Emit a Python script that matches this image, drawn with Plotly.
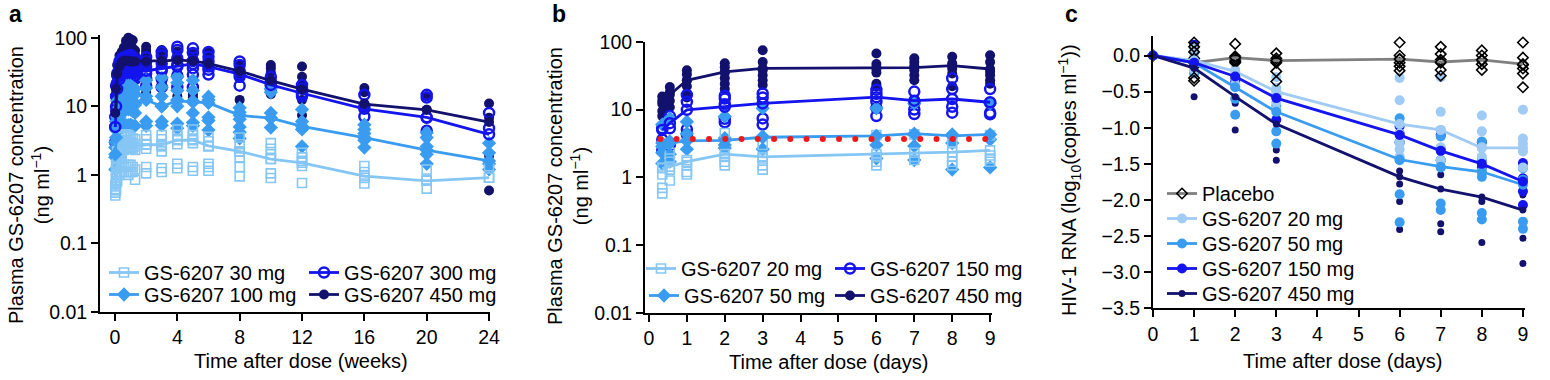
import numpy as np
import plotly.graph_objects as go

FONT = "Liberation Sans, Arial, Helvetica, sans-serif"
W, H = 1550, 380

# ---------------- colours ----------------
C_LIGHT = "#86c6f5"
C_LIGHT_C = "#9fcbf5"
C_MED = "#3a9cf0"
C_BRIGHT = "#1414ee"
C_NAVY = "#12126e"
C_PLAC_LINE = "#808080"
C_REF = "#f01818"

# ================= Panel a: weeks =================
a_weeks = [0.02, 0.07, 0.14, 0.29, 0.43, 0.57, 0.71, 0.86, 1.0, 1.14, 1.29,
           2, 3, 4, 5, 6, 8, 10, 12, 16, 20, 24]
a_labels = ["GS-6207 30 mg", "GS-6207 100 mg", "GS-6207 300 mg", "GS-6207 450 mg"]

a_mean_30 = [0.6, 0.9, 1.3, 1.7, 2.1, 2.3, 2.5, 2.5, 2.6, 2.6, 2.6,
             2.75, 2.75, 3.2, 3.2, 2.65, 2.2, 1.7, 1.5, 0.96, 0.82, 0.91]
a_mean_100 = [2.0, 3.5, 6.0, 8.5, 9.5, 10, 10.5, 10.5, 10.5, 10, 10.5,
              12.4, 10, 12, 11.5, 11.2, 7.4, 6.7, 5.1, 3.5, 2.3, 1.6]
a_mean_300 = [5, 10, 18, 25, 30, 33, 34, 34, 33, 32, 32,
              33, 35.6, 38, 41.5, 38, 29.5, 20.5, 15.5, 9.2, 6.9, 3.9]
a_mean_450 = [8, 18, 30, 38, 44, 46, 46, 46, 45, 45, 45,
              45, 46, 47, 46, 42, 32.7, 23.7, 17.8, 10.8, 8.9, 5.9]

a_pts_30 = [[0.5, 0.55, 0.62, 0.7], [0.6, 0.75, 0.9, 1.1, 1.4], [0.8, 1.0, 1.3, 1.7, 2.2],
            [1.0, 1.4, 1.9, 2.5, 3.2], [1.1, 1.5, 2.2, 2.8, 3.6], [1.1, 1.4, 2.4, 3.0, 3.8],
            [1.1, 1.3, 2.5, 3.1, 3.9], [1.0, 1.4, 2.6, 3.2, 3.8], [1.1, 1.4, 2.5, 3.0, 3.6],
            [1.1, 1.3, 2.4, 2.9, 3.4], [0.85, 1.2, 2.3, 2.8, 3.3],
            [3.8, 3.3, 2.8, 2.4, 1.3, 1.05], [3.8, 3.3, 2.6, 2.2, 1.25, 1.1],
            [4.6, 3.8, 3.3, 2.8, 1.45, 1.25], [4.6, 3.8, 3.3, 2.9, 1.3, 1.15],
            [3.6, 3.1, 2.6, 1.45, 1.3, 1.15], [3.5, 2.8, 2.2, 1.8, 1.3, 0.95],
            [2.9, 2.4, 2.0, 1.7, 1.05, 0.9], [2.1, 1.8, 1.6, 1.35, 0.76],
            [1.35, 1.1, 0.9, 0.75], [1.2, 0.85, 0.63], [1.33, 0.91]]
a_pts_100 = [[1.2, 1.8, 2.5, 3.0], [2.0, 3.0, 4.5, 6.0], [3.0, 5.0, 7.0, 9.0, 12],
             [4.5, 7, 9, 12, 16], [5.5, 8, 10, 14, 18], [5.5, 8.5, 11, 15, 19],
             [5.3, 9, 11, 16, 20], [5.3, 9, 12, 17, 20], [5.4, 9, 12, 17, 20],
             [5.2, 8.5, 12, 16, 19], [5.2, 8, 11, 15, 18],
             [24, 18.5, 14, 12.5, 6, 5.2], [26, 19, 14, 10, 6, 5.3],
             [27, 22, 17, 12.4, 10, 5.6, 4.8], [24, 17, 12, 8, 5.8, 5.2],
             [13.8, 12.4, 6.9, 6.2, 4.5], [9.5, 8.2, 6.5, 5, 4.2, 3.4],
             [18, 16, 8, 6.8, 4.9], [9, 6, 4.6, 2.6], [5.4, 4.6, 4, 3.2, 2.5],
             [4.1, 3.5, 2.6, 2.0, 1.45], [2.9, 2.1, 1.45, 1.2]]
a_pts_300 = [[3, 5, 7], [5, 9, 14, 20], [10, 15, 22, 30], [15, 22, 30, 38, 45],
             [18, 25, 32, 40, 50], [20, 26, 33, 42, 52], [20, 27, 34, 43, 53],
             [22, 28, 34, 45, 55], [24, 30, 35, 45, 56], [25, 30, 34, 43, 52],
             [25, 28, 33, 42, 48],
             [52, 45, 38, 30, 25, 20], [62, 55, 42, 33, 25, 19], [74, 66, 50, 40, 28, 19],
             [70, 60, 46, 36, 29, 19], [62, 53, 45, 34, 29], [45, 40, 33, 27, 20],
             [27, 23, 20, 17.7], [20.5, 18, 15, 14], [14.7, 10, 7.1],
             [14.7, 13.4, 6.8, 4.4], [8, 4.8]]
a_pts_450 = [[5, 9, 14], [12, 20, 28], [22, 32, 40], [30, 40, 48, 55],
             [32, 44, 55, 62], [35, 45, 58, 65, 72], [36, 46, 60, 70, 90],
             [38, 47, 62, 75, 100], [38, 46, 60, 80, 95], [37, 45, 58, 70, 92],
             [36, 44, 55, 65],
             [74, 66, 60, 48, 40, 16, 14], [66, 58, 50, 42, 22, 14], [63, 55, 47, 30, 18, 14],
             [58, 50, 44, 15, 13.5], [62, 56, 48, 40], [40, 31, 26, 12.4],
             [40, 36, 31, 23, 15], [38, 27, 20, 12.4, 7.4], [18.5, 16, 11, 4],
             [14, 8.9, 4.1, 3.5], [11, 6.8, 1.9, 0.59]]

# ================= Panel b: days =================
b_days = [0.35, 0.55, 1, 2, 3, 6, 7, 8, 9]
b_labels = ["GS-6207 20 mg", "GS-6207 50 mg", "GS-6207 150 mg", "GS-6207 450 mg"]
b_mean_20 = [1.36, 1.44, 1.7, 2.2, 2.0, 2.2, 2.3, 2.35, 2.5]
b_mean_50 = [2.85, 3.2, 3.45, 3.5, 3.9, 4.1, 4.4, 4.1, 4.3]
b_mean_150 = [5.0, 6.3, 9.9, 11, 12.3, 15.2, 13.5, 14.3, 12.8]
b_mean_450 = [13.5, 16.5, 27, 36, 40.5, 41.5, 41.5, 44.4, 39.6]

b_pts_20 = [[1.4, 1.1, 0.7, 0.58], [2.3, 1.9, 1.3, 0.9], [1.8, 1.5, 1.2, 1.1],
            [4.5, 2.0, 1.7, 1.5], [3.0, 1.9, 1.5, 1.3], [4.2, 2.0, 1.7, 1.5],
            [4.3, 2.0, 1.8], [3.3, 2.0, 1.7, 1.5], [4.2, 2.1, 1.9, 1.7]]
b_pts_50 = [[6, 3.2, 2.3, 1.6], [7.4, 3.4, 2.2, 1.7], [6.6, 4.4, 3.5, 2.6],
            [7.9, 3.8, 3.0, 2.7], [10.4, 4.0, 2.6], [10.4, 4.0, 3.0, 1.9],
            [12.3, 4.2, 2.9, 1.8], [4.3, 3.2, 1.3], [12.3, 3.6, 1.4]]
b_pts_150 = [[5.3, 3.6, 2.5], [8, 5.3, 3.0], [16.4, 13, 5.1, 4.3],
             [16, 14.5, 12, 7.3, 6.5], [17.3, 15, 7.4, 6], [19.5, 17, 13, 10.5, 8],
             [18.4, 12.5, 10, 8.6], [29, 20, 11, 9], [20, 12.5, 9, 8.5]]
b_pts_450 = [[15.5, 12.2, 9.5, 8], [21.5, 18, 13.5, 10.8], [38, 33, 27, 22, 17, 15],
             [48, 42, 35, 29, 24, 20], [75, 50, 38, 32, 27, 23], [67, 47, 40, 35, 24, 22],
             [57, 50, 44, 38, 32, 27], [60, 48, 40, 34, 22], [63, 50, 36, 32, 27, 24]]

b_ref_level = 3.69          # dotted red reference concentration
b_ref_span = [-0.13, 9.73]  # days covered by the dotted line
b_ref_ndots = 24

# ================= Panel c: days =================
c_days = [0, 1, 2, 3, 6, 7, 8, 9]
c_labels = ["Placebo", "GS-6207 20 mg", "GS-6207 50 mg", "GS-6207 150 mg", "GS-6207 450 mg"]
c_mean_pl = [0, -0.1, -0.03, -0.07, -0.05, -0.09, -0.06, -0.12]
c_mean_20 = [0, -0.07, -0.22, -0.5, -0.95, -1.03, -1.28, -1.28]
c_mean_50 = [0, -0.1, -0.44, -0.78, -1.44, -1.54, -1.61, -1.79]
c_mean_150 = [0, -0.1, -0.29, -0.59, -1.1, -1.32, -1.5, -1.745]
c_mean_450 = [0, -0.175, -0.57, -0.95, -1.68, -1.85, -1.96, -2.14]

c_pts_pl = [[0], [0.18, 0.12, 0.05, -0.04, -0.09, -0.15, -0.31, -0.35],
            [0.16, -0.01, -0.03, -0.06, -0.08, -0.1], [0.03, -0.04, -0.08, -0.1, -0.22, -0.36],
            [0.18, 0.0, -0.05, -0.1, -0.15, -0.21], [0.12, 0.02, -0.06, -0.1, -0.2, -0.28],
            [0.07, 0.0, -0.07, -0.12, -0.2], [0.18, -0.03, -0.13, -0.18, -0.25, -0.44]]
c_pts_20 = [[0], [0.1, -0.02, -0.12, -0.2], [-0.1, -0.2, -0.3, -0.4],
            [-0.3, -0.45, -0.55, -0.65, -0.75], [-0.31, -0.62, -1.08, -1.2, -1.3, -1.4],
            [-0.3, -0.78, -1.03, -1.27, -1.45], [-0.83, -1.05, -1.27, -1.4, -1.6],
            [-0.75, -1.15, -1.22, -1.33, -1.55]]
c_pts_50 = [[0], [0.05, -0.1, -0.25], [-0.3, -0.43, -0.6, -0.82], [-0.55, -0.7, -1.05, -1.22],
            [-0.87, -1.2, -1.45, -1.92, -2.31], [-1.12, -1.45, -1.55, -2.05, -2.14],
            [-1.19, -1.45, -1.68, -2.18, -2.27], [-1.56, -1.72, -2.3, -2.4]]
c_pts_150 = [[0], [0.15, -0.05], [-0.3, -0.36], [-0.57, -0.89], [-0.98, -1.08, -1.2],
             [-1.1, -1.3, -1.45], [-1.2, -1.55], [-1.49, -1.7, -1.88, -2.07]]
c_pts_450 = [[0], [-0.2, -0.57], [-0.6, -0.66, -1.03], [-1.31, -1.45],
             [-1.6, -1.78, -2.02, -2.41], [-1.65, -2.33, -2.44], [-2.02, -2.59],
             [-1.93, -2.53, -2.88]]

# ---------------- figure ----------------
fig = go.Figure()


def px_x(p):
    return p / W


def px_y(p):
    return 1 - p / H


LF = dict(family=FONT, size=20, color="black")
legends = {}


def make_legend(text_x, center_y):
    key = "legend" if not legends else f"legend{len(legends) + 1}"
    legends[key] = dict(x=px_x(text_x - 40), y=px_y(center_y - 19), xanchor="left",
                        yanchor="top", bgcolor="rgba(0,0,0,0)", font=LF,
                        orientation="v", itemwidth=30)
    return key


def add_points(xa, ya, times, pts, marker):
    xs = [t for t, vals in zip(times, pts) for _ in vals]
    ys = [v for vals in pts for v in vals]
    fig.add_trace(go.Scatter(x=xs, y=ys, mode="markers", marker=marker, xaxis=xa, yaxis=ya,
                             showlegend=False, cliponaxis=False, hoverinfo="skip"))


def add_mean(xa, ya, times, mean, name, lcolor, marker, text_x, center_y, lw=2.8):
    fig.add_trace(go.Scatter(x=times, y=mean, mode="lines+markers", name=name,
                             line=dict(color=lcolor, width=lw), marker=marker,
                             xaxis=xa, yaxis=ya, legend=make_legend(text_x, center_y),
                             cliponaxis=False))


def m(symbol, color, size, lw=0, lcolor=None):
    return dict(symbol=symbol, color=color, size=size,
                line=dict(width=lw, color=lcolor or color))


mk_sq = m("square-open", C_LIGHT, 9, 1.6)
mk_di = m("diamond", C_MED, 11)
mk_oc = m("circle-open", C_BRIGHT, 10, 2.5)
mk_fc = m("circle", C_NAVY, 10)

# panel a
for pts, mk in [(a_pts_450, mk_fc), (a_pts_300, mk_oc), (a_pts_100, mk_di), (a_pts_30, mk_sq)]:
    add_points("x", "y", a_weeks, pts, mk)
add_mean("x", "y", a_weeks, a_mean_30, a_labels[0], C_LIGHT, mk_sq, 144, 272)
add_mean("x", "y", a_weeks, a_mean_100, a_labels[1], C_MED, mk_di, 144, 294)
add_mean("x", "y", a_weeks, a_mean_300, a_labels[2], C_BRIGHT, mk_oc, 344, 272)
add_mean("x", "y", a_weeks, a_mean_450, a_labels[3], C_NAVY, mk_fc, 344, 294)

# panel b
for pts, mk in [(b_pts_450, mk_fc), (b_pts_150, mk_oc), (b_pts_50, mk_di), (b_pts_20, mk_sq)]:
    add_points("x2", "y2", b_days, pts, mk)
add_mean("x2", "y2", b_days, b_mean_20, b_labels[0], C_LIGHT, mk_sq, 681, 268)
add_mean("x2", "y2", b_days, b_mean_50, b_labels[1], C_MED, mk_di, 684, 295)
add_mean("x2", "y2", b_days, b_mean_150, b_labels[2], C_BRIGHT, mk_oc, 870, 268)
add_mean("x2", "y2", b_days, b_mean_450, b_labels[3], C_NAVY, mk_fc, 870, 295)
ref_x = np.linspace(b_ref_span[0], b_ref_span[1], b_ref_ndots)
fig.add_trace(go.Scatter(x=ref_x, y=[b_ref_level] * len(ref_x), mode="markers",
                         marker=dict(color=C_REF, size=6), xaxis="x2", yaxis="y2",
                         showlegend=False, cliponaxis=False, hoverinfo="skip"))

# panel c
mc_pl = m("diamond-open", "black", 8, 1.6, "black")
mc_20 = m("circle", C_LIGHT_C, 10)
mc_50 = m("circle", C_MED, 10)
mc_150 = m("circle", C_BRIGHT, 10)
mc_450 = m("circle", C_NAVY, 7)
for pts, mk in [(c_pts_450, mc_450), (c_pts_150, mc_150), (c_pts_50, mc_50),
                (c_pts_20, mc_20), (c_pts_pl, mc_pl)]:
    add_points("x3", "y3", c_days, pts, mk)
add_mean("x3", "y3", c_days, c_mean_pl, c_labels[0], C_PLAC_LINE, mc_pl, 1202, 193)
add_mean("x3", "y3", c_days, c_mean_20, c_labels[1], C_LIGHT_C, mc_20, 1202, 218)
add_mean("x3", "y3", c_days, c_mean_50, c_labels[2], C_MED, mc_50, 1202, 243)
add_mean("x3", "y3", c_days, c_mean_150, c_labels[3], C_BRIGHT, mc_150, 1202, 268)
add_mean("x3", "y3", c_days, c_mean_450, c_labels[4], C_NAVY, mc_450, 1202, 293)

# ---------------- axes ----------------
TF = dict(family=FONT, size=19.5, color="black")
TT = dict(family=FONT, size=20, color="black")

axis_common = dict(showline=True, linewidth=2, linecolor="black", ticks="outside",
                   ticklen=7, tickwidth=2, tickcolor="black", showgrid=False,
                   zeroline=False, tickfont=TF, fixedrange=True, automargin=False)

log_ticks = [0.01, 0.1, 1, 10, 100]
log_text = ["0.01", "0.1", "1", "10", "100"]

fig.update_layout(
    xaxis=dict(domain=[px_x(100), px_x(490)], range=[-0.96, 24.06], anchor="y",
               tickvals=[0, 4, 8, 12, 16, 20, 24], **axis_common),
    yaxis=dict(domain=[px_y(312), px_y(35)], type="log", range=[-2, 2.04], anchor="x",
               tickvals=log_ticks, ticktext=log_text, **axis_common),
    xaxis2=dict(domain=[px_x(645), px_x(992)], range=[-0.105, 9.05], anchor="y2",
                tickvals=list(range(10)), **axis_common),
    yaxis2=dict(domain=[px_y(313), px_y(41.7)], type="log", range=[-2, 2], anchor="x2",
                tickvals=log_ticks, ticktext=log_text, **axis_common),
    xaxis3=dict(domain=[px_x(1153), px_x(1525)], range=[0, 9.05], anchor="y3",
                tickvals=list(range(10)), **axis_common),
    yaxis3=dict(domain=[px_y(308.3), px_y(36)], range=[-3.5, 0.27], anchor="x3",
                tickvals=[0, -0.5, -1, -1.5, -2, -2.5, -3, -3.5], tickformat=".1f",
                **axis_common),
)
fig.update_layout(**legends)

ann = []
for txt, xp, yp in [("a", 15, 14), ("b", 559, 14), ("c", 1071, 14)]:
    ann.append(dict(text=f"<b>{txt}</b>", x=px_x(xp), y=px_y(yp), xref="paper", yref="paper",
                    showarrow=False, xanchor="center", yanchor="middle",
                    font=dict(family=FONT, size=23, color="black")))
for txt, xp, yp in [("Time after dose (weeks)", 301, 361), ("Time after dose (days)", 829, 362),
                    ("Time after dose (days)", 1342, 361)]:
    ann.append(dict(text=txt, x=px_x(xp), y=px_y(yp), xref="paper", yref="paper",
                    showarrow=False, xanchor="center", yanchor="middle", font=TT))
for txt, xp, yp in [("Plasma GS-6207 concentration<br>(ng ml<sup>−1</sup>)", 29, 185),
                    ("Plasma GS-6207 concentration<br>(ng ml<sup>−1</sup>)", 568, 186),
                    ("HIV-1 RNA (log<sub>10</sub>(copies ml<sup>−1</sup>))", 1070, 180)]:
    ann.append(dict(text=txt, x=px_x(xp), y=px_y(yp), xref="paper", yref="paper",
                    showarrow=False, xanchor="center", yanchor="middle", textangle=-90,
                    font=TT))

fig.update_layout(
    width=W, height=H, margin=dict(l=0, r=0, t=0, b=0, pad=0, autoexpand=False),
    paper_bgcolor="white", plot_bgcolor="white",
    font=dict(family=FONT, size=20, color="black"),
    annotations=ann, hovermode=False,
)

fig.write_html("out.html", include_plotlyjs=True, config={"displayModeBar": False},
               post_script="document.body.style.margin='0';document.body.style.overflow='hidden';")
